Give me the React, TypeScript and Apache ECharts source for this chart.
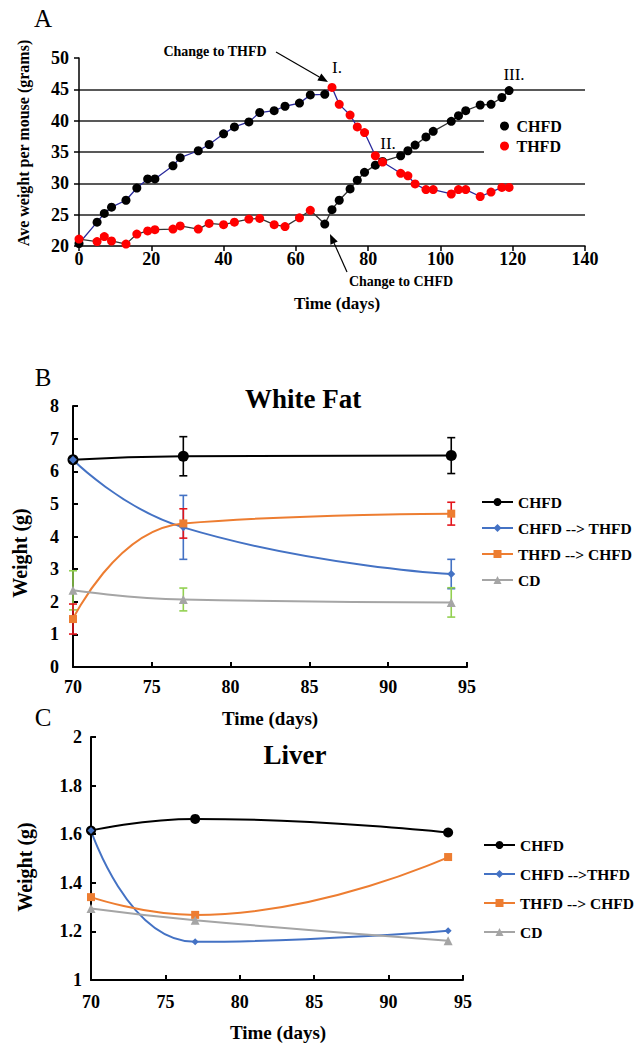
import React, { useEffect, useRef } from "react";
import * as echarts from "echarts";

const FONT = '"Liberation Serif", "Times New Roman", serif';

// ---------- Panel A: body weight over time ----------
// Group 1: started on CHFD, changed to THFD at day 70
const g1Days = [0, 5, 7, 9, 13, 16, 19, 21, 26, 28, 33, 36, 40, 43, 47, 50, 54, 57, 61, 64, 68, 70, 72, 75, 77, 79, 82, 84, 89, 91, 93, 96, 98, 103, 105, 107, 111, 114, 117, 119];
const g1Weight = [20.4, 23.8, 25.2, 26.2, 27.3, 29.25, 30.7, 30.7, 32.8, 34.1, 35.2, 36.2, 37.9, 39.0, 39.8, 41.3, 41.6, 42.3, 42.8, 44.1, 44.2, 45.3, 42.6, 40.9, 39.0, 38.1, 34.4, 33.4, 31.6, 31.2, 29.9, 29.0, 29.0, 28.3, 29.0, 29.0, 27.9, 28.6, 29.35, 29.35];
const g1SwitchDay = 70;
// Group 2: started on THFD, changed to CHFD at day 68
const g2Days = [0, 5, 7, 9, 13, 16, 19, 21, 26, 28, 33, 36, 40, 43, 47, 50, 54, 57, 61, 64, 68, 70, 72, 75, 77, 79, 82, 84, 89, 91, 93, 96, 98, 103, 105, 107, 111, 114, 117, 119];
const g2Weight = [21.1, 20.7, 21.5, 20.8, 20.3, 21.9, 22.4, 22.6, 22.7, 23.2, 22.7, 23.6, 23.4, 23.8, 24.3, 24.4, 23.4, 23.1, 24.5, 25.7, 23.5, 25.8, 27.3, 29.1, 30.5, 31.75, 32.9, 33.5, 34.4, 35.2, 36.1, 37.4, 38.3, 39.9, 40.8, 41.6, 42.5, 42.6, 43.7, 44.8];
const g2SwitchDay = 68;
const dietNames = ["CHFD", "THFD"];

// ---------- Panels B & C ----------
const timePoints = [70, 77, 94];
const fatNames = ["CHFD", "CHFD --> THFD", "THFD --> CHFD", "CD"];
const fatCHFD = [6.35, 6.46, 6.48];
const fatCHFDErr = [0, 0.6, 0.55];
const fatC2T = [6.35, 4.28, 2.85];
const fatC2TErr = [0, 0.98, 0.45];
const fatT2C = [1.47, 4.4, 4.7];
const fatT2CErr = [0.46, 0.45, 0.35];
const fatCD = [2.35, 2.07, 1.98];
const fatCDErr = [0.6, 0.35, 0.45];

const liverNames = ["CHFD", "CHFD -->THFD", "THFD --> CHFD", "CD"];
const liverCHFD = [1.615, 1.663, 1.607];
const liverC2T = [1.615, 1.157, 1.203];
const liverT2C = [1.341, 1.268, 1.506];
const liverCD = [1.294, 1.246, 1.162];

const COLORS = ["#000000", "#4472c4", "#ed7d31", "#a5a5a5"];
const ERR_COLORS = ["#000000", "#4472c4", "#e3141b", "#92d050"];
const SYMBOLS = ["circle", "diamond", "rect", "triangle"];

function txt(text: string, x: number, y: number, size: number, bold = true, rotation = 0) {
  return {
    type: "text",
    x,
    y,
    rotation,
    style: {
      text,
      fontSize: size,
      fontWeight: bold ? "bold" : "normal",
      fontFamily: FONT,
      fill: "#000",
      align: "center",
      verticalAlign: "middle",
      textAlign: "center",
      textVerticalAlign: "middle",
    },
  };
}

function arrow(x1: number, y1: number, x2: number, y2: number) {
  const len = 10;
  const w = 4;
  const dx = x2 - x1;
  const dy = y2 - y1;
  const L = Math.hypot(dx, dy);
  const ux = dx / L;
  const uy = dy / L;
  const bx = x2 - ux * len;
  const by = y2 - uy * len;
  const px = -uy;
  const py = ux;
  return [
    { type: "line", shape: { x1, y1, x2: bx, y2: by }, style: { stroke: "#000", lineWidth: 1.2 } },
    {
      type: "polygon",
      shape: { points: [[x2, y2], [bx + px * w, by + py * w], [bx - px * w, by - py * w]] },
      style: { fill: "#000" },
    },
  ];
}

function axisLabelStyle(size: number, margin: number) {
  return { fontFamily: FONT, fontSize: size, fontWeight: "bold", color: "#000", margin };
}

function errorSeries(name: string, means: number[], errs: number[], color: string) {
  const data: number[][] = [];
  timePoints.forEach((t, i) => {
    if (errs[i] > 0) data.push([t, means[i] - errs[i], means[i] + errs[i]]);
  });
  return {
    type: "custom",
    name,
    data,
    encode: { x: 0, y: [1, 2] },
    z: 2,
    renderItem: (params: any, api: any) => {
      const x = api.value(0);
      const top = api.coord([x, api.value(2)]);
      const bot = api.coord([x, api.value(1)]);
      const hw = 4;
      const st = { stroke: color, lineWidth: 1.6 };
      return {
        type: "group",
        children: [
          { type: "line", shape: { x1: top[0], y1: top[1], x2: bot[0], y2: bot[1] }, style: st },
          { type: "line", shape: { x1: top[0] - hw, y1: top[1], x2: top[0] + hw, y2: top[1] }, style: st },
          { type: "line", shape: { x1: bot[0] - hw, y1: bot[1], x2: bot[0] + hw, y2: bot[1] }, style: st },
        ],
      };
    },
  };
}

function lineSeries(name: string, values: number[], idx: number, sizes: number[]) {
  return {
    type: "line",
    name,
    data: timePoints.map((t, i) => [t, values[i]]),
    smooth: true,
    symbol: SYMBOLS[idx],
    symbolSize: sizes[idx],
    showAllSymbol: true,
    lineStyle: { color: COLORS[idx], width: 2 },
    itemStyle: { color: COLORS[idx] },
    z: 3,
  };
}

function optionA() {
  const blackPts: number[][] = [];
  const redPts: number[][] = [];
  g1Days.forEach((d, i) => (d < g1SwitchDay ? blackPts : redPts).push([d, g1Weight[i]]));
  g2Days.forEach((d, i) => (d < g2SwitchDay ? redPts : blackPts).push([d, g2Weight[i]]));
  return {
    animation: false,
    grid: { left: 79, top: 58, width: 506, height: 188 },
    xAxis: {
      type: "value",
      min: 0,
      max: 140,
      interval: 20,
      axisLine: { show: true, lineStyle: { color: "#000", width: 1.5 } },
      axisTick: { show: true, inside: false, length: 5, lineStyle: { color: "#000", width: 1.5 } },
      axisLabel: axisLabelStyle(18, 4),
      splitLine: { show: false },
    },
    yAxis: {
      type: "value",
      min: 20,
      max: 50,
      interval: 5,
      axisLine: { show: true, lineStyle: { color: "#000", width: 1.5 } },
      axisTick: { show: true, inside: false, length: 5, lineStyle: { color: "#000", width: 1.5 } },
      axisLabel: axisLabelStyle(18, 10),
      splitLine: { show: true, showMinLine: false, showMaxLine: false, lineStyle: { color: "#222", width: 1.6 } },
    },
    legend: {
      data: dietNames,
      orient: "vertical",
      left: 495,
      top: 113,
      itemWidth: 14,
      itemHeight: 9,
      itemGap: 4,
      icon: "circle",
      textStyle: { fontFamily: FONT, fontSize: 16, fontWeight: "bold", color: "#000" },
    },
    graphic: [
      { type: "rect", z: 1, shape: { x: 484, y: 114, width: 106, height: 44 }, style: { fill: "#fff" } },
      txt("A", 43, 18, 25, false),
      txt("Ave weight per mouse (grams)", 23, 143, 16, true, Math.PI / 2),
      txt("Time (days)", 337, 303, 17),
      txt("Change to THFD", 215, 51, 14),
      ...arrow(276, 52, 328, 82),
      txt("I.", 337, 67, 17, false),
      txt("II.", 388, 143, 17, false),
      txt("III.", 514, 74, 17, false),
      txt("Change to CHFD", 401, 281, 14),
      ...arrow(347, 272, 330, 234),
    ],
    series: [
      {
        type: "line",
        name: "CHFD → THFD group",
        data: g1Days.map((d, i) => [d, g1Weight[i]]),
        symbol: "none",
        lineStyle: { color: "#2a2a9c", width: 1.3 },
        z: 2,
      },
      {
        type: "line",
        name: "THFD → CHFD group",
        data: g2Days.map((d, i) => [d, g2Weight[i]]),
        symbol: "none",
        lineStyle: { color: "#333", width: 1.3 },
        z: 2,
      },
      {
        type: "scatter",
        name: dietNames[0],
        data: blackPts,
        symbolSize: 9,
        itemStyle: { color: "#000", opacity: 1 },
        z: 3,
      },
      {
        type: "scatter",
        name: dietNames[1],
        data: redPts,
        symbolSize: 9,
        itemStyle: { color: "#ff0000", opacity: 1 },
        z: 3,
      },
    ],
  };
}

function panelAxes(yMin: number, yMax: number, yInt: number, yMargin: number, xMargin: number) {
  return {
    xAxis: {
      type: "value",
      min: 70,
      max: 95,
      interval: 5,
      axisLine: { show: true, onZero: false, lineStyle: { color: "#000", width: 2 } },
      axisTick: { show: true, inside: true, length: 5, lineStyle: { color: "#000", width: 2 } },
      axisLabel: axisLabelStyle(18, xMargin),
      splitLine: { show: false },
    },
    yAxis: {
      type: "value",
      min: yMin,
      max: yMax,
      interval: yInt,
      axisLine: { show: true, lineStyle: { color: "#000", width: 2 } },
      axisTick: { show: true, inside: true, length: 5, lineStyle: { color: "#000", width: 2 } },
      axisLabel: axisLabelStyle(18, yMargin),
      splitLine: { show: false },
    },
  };
}

function legendStyle(names: string[], left: number, top: number, gap: number) {
  return {
    data: names,
    orient: "vertical",
    left,
    top,
    itemWidth: 31,
    itemHeight: 10,
    itemGap: gap,
    textStyle: { fontFamily: FONT, fontSize: 15.5, fontWeight: "bold", color: "#000" },
  };
}

function optionB() {
  const sizes = [11, 8, 8, 9];
  return {
    animation: false,
    grid: { left: 73, top: 76, width: 394, height: 261 },
    ...panelAxes(0, 8, 1, 14, 11),
    legend: legendStyle(fatNames, 476, 159, 10),
    graphic: [
      txt("B", 43, 47, 25, false),
      txt("White Fat", 303, 69, 27),
      txt("Weight (g)", 20, 223, 20, true, Math.PI / 2),
      txt("Time (days)", 270, 388, 19),
    ],
    series: [
      errorSeries("e0", fatCHFD, fatCHFDErr, ERR_COLORS[0]),
      errorSeries("e1", fatC2T, fatC2TErr, ERR_COLORS[1]),
      errorSeries("e3", fatCD, fatCDErr, ERR_COLORS[3]),
      errorSeries("e2", fatT2C, fatT2CErr, ERR_COLORS[2]),
      lineSeries(fatNames[0], fatCHFD, 0, sizes),
      lineSeries(fatNames[1], fatC2T, 1, sizes),
      lineSeries(fatNames[2], fatT2C, 2, sizes),
      lineSeries(fatNames[3], fatCD, 3, sizes),
    ],
  };
}

function optionC() {
  const sizes = [10, 7, 8, 9];
  return {
    animation: false,
    grid: { left: 91, top: 37, width: 372, height: 243 },
    ...panelAxes(1, 2, 0.2, 9, 13),
    legend: legendStyle(liverNames, 478, 132, 13),
    graphic: [
      txt("C", 43, 17, 25, false),
      txt("Liver", 295, 55, 27),
      txt("Weight (g)", 25, 167, 20, true, Math.PI / 2),
      txt("Time (days)", 278, 332, 19),
    ],
    series: [
      lineSeries(liverNames[0], liverCHFD, 0, sizes),
      lineSeries(liverNames[1], liverC2T, 1, sizes),
      lineSeries(liverNames[2], liverT2C, 2, sizes),
      lineSeries(liverNames[3], liverCD, 3, sizes),
    ],
  };
}

export default function App() {
  const refA = useRef<HTMLDivElement>(null);
  const refB = useRef<HTMLDivElement>(null);
  const refC = useRef<HTMLDivElement>(null);

  useEffect(() => {
    const charts: echarts.ECharts[] = [];
    const pairs: [HTMLDivElement | null, any][] = [
      [refA.current, optionA()],
      [refB.current, optionB()],
      [refC.current, optionC()],
    ];
    pairs.forEach(([el, opt]) => {
      if (!el) return;
      const c = echarts.init(el, undefined, { renderer: "svg" });
      c.setOption(opt);
      charts.push(c);
    });
    return () => charts.forEach((c) => c.dispose());
  }, []);

  return (
    <div style={{ position: "absolute", left: 0, top: 0, width: 634, height: 1050, background: "#fff" }}>
      <div ref={refA} style={{ position: "absolute", left: 0, top: 0, width: 634, height: 330 }} />
      <div ref={refB} style={{ position: "absolute", left: 0, top: 330, width: 634, height: 400 }} />
      <div ref={refC} style={{ position: "absolute", left: 0, top: 700, width: 634, height: 350 }} />
    </div>
  );
}
